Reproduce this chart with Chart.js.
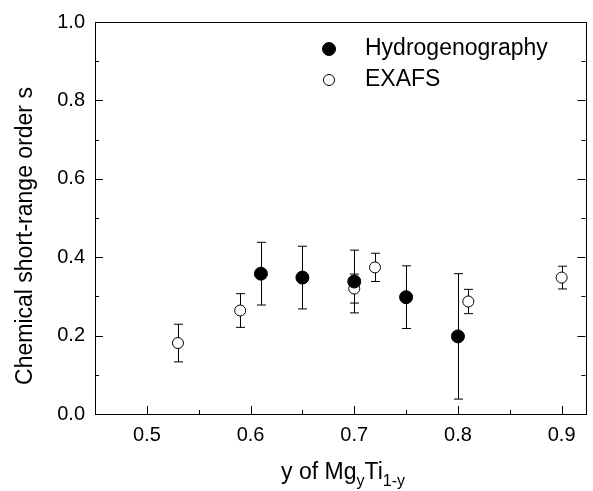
<!DOCTYPE html>
<html>
<head>
<meta charset="utf-8">
<script src="https://cdn.jsdelivr.net/npm/chart.js@4.4.0/dist/chart.umd.min.js"></script>
<style>
  body { margin: 0; background: #fff; }
  #wrap { width: 593px; height: 491px; }
</style>
</head>
<body>
<div id="wrap"><canvas id="grafico" width="593" height="491"></canvas></div>
<script>
// Hydrogenography (filled circles)
const hydroX = [0.61, 0.65, 0.70, 0.75, 0.80];
const hydroS = [0.358, 0.348, 0.338, 0.298, 0.198];
const hydroErr = [0.08, 0.08, 0.08, 0.08, 0.16];

// EXAFS (open circles)
const exafsX = [0.53, 0.59, 0.70, 0.72, 0.81, 0.90];
const exafsS = [0.181, 0.264, 0.32, 0.374, 0.287, 0.348];
const exafsErr = [0.048, 0.043, 0.037, 0.036, 0.031, 0.029];

const xTicks = [0.5, 0.6, 0.7, 0.8, 0.9];
const xMinor = [0.55, 0.65, 0.75, 0.85];
const yTicks = [0.0, 0.2, 0.4, 0.6, 0.8, 1.0];
const yMinor = [0.1, 0.3, 0.5, 0.7, 0.9];

const fonte = "'Liberation Sans', Arial, sans-serif";

function pontos(xs, ys, errs) {
    return xs.map((x, i) => ({ x: x, y: ys[i], err: errs[i] }));
}

// barras de erro, desenhadas antes dos pontos
const barrasErro = {
    id: "barrasErro",
    beforeDatasetsDraw(chart) {
        const ctx = chart.ctx;
        const sx = chart.scales.x, sy = chart.scales.y;
        ctx.save();
        ctx.strokeStyle = "#000";
        ctx.lineWidth = 1;
        chart.data.datasets.forEach(ds => {
            ds.data.forEach(p => {
                const px = Math.round(sx.getPixelForValue(p.x)) + 0.5;
                const top = sy.getPixelForValue(p.y + p.err);
                const bot = sy.getPixelForValue(p.y - p.err);
                ctx.beginPath();
                ctx.moveTo(px, top); ctx.lineTo(px, bot);
                ctx.moveTo(px - 4.5, top); ctx.lineTo(px + 4.5, top);
                ctx.moveTo(px - 4.5, bot); ctx.lineTo(px + 4.5, bot);
                ctx.stroke();
            });
        });
        ctx.restore();
    }
};

// moldura, ticks internos, legenda e títulos
const moldura = {
    id: "moldura",
    afterDraw(chart) {
        const ctx = chart.ctx;
        const a = chart.chartArea;
        const sx = chart.scales.x, sy = chart.scales.y;
        ctx.save();
        ctx.strokeStyle = "#000";
        ctx.lineWidth = 1;
        ctx.strokeRect(Math.round(a.left) + 0.5, Math.round(a.top) + 0.5,
            Math.round(a.right - a.left), Math.round(a.bottom - a.top));

        ctx.beginPath();
        xTicks.forEach(v => {
            const px = Math.round(sx.getPixelForValue(v)) + 0.5;
            ctx.moveTo(px, a.bottom); ctx.lineTo(px, a.bottom - 8);
        });
        xMinor.forEach(v => {
            const px = Math.round(sx.getPixelForValue(v)) + 0.5;
            ctx.moveTo(px, a.bottom); ctx.lineTo(px, a.bottom - 4);
        });
        yTicks.forEach(v => {
            const py = Math.round(sy.getPixelForValue(v)) + 0.5;
            ctx.moveTo(a.left, py); ctx.lineTo(a.left + 8, py);
            ctx.moveTo(a.right, py); ctx.lineTo(a.right - 8, py);
        });
        yMinor.forEach(v => {
            const py = Math.round(sy.getPixelForValue(v)) + 0.5;
            ctx.moveTo(a.left, py); ctx.lineTo(a.left + 4, py);
            ctx.moveTo(a.right, py); ctx.lineTo(a.right - 4, py);
        });
        ctx.stroke();

        // legenda
        ctx.font = "23px " + fonte;
        ctx.textBaseline = "middle";
        ctx.textAlign = "left";
        chart.data.datasets.forEach((ds, i) => {
            const ly = 49 + i * 31;
            ctx.beginPath();
            ctx.arc(329, ly, ds.pointRadius, 0, Math.PI * 2);
            ctx.fillStyle = ds.pointBackgroundColor;
            ctx.fill();
            ctx.stroke();
            ctx.fillStyle = "#000";
            ctx.fillText(ds.label, 365, ly);
        });

        // título eixo y
        ctx.save();
        ctx.translate(26, 236);
        ctx.rotate(-Math.PI / 2);
        ctx.textAlign = "center";
        ctx.font = "23px " + fonte;
        ctx.fillText("Chemical short-range order s", 0, 0);
        ctx.restore();

        // título eixo x com subscritos
        const partes = [
            { t: "y of Mg", f: 23, dy: 0 },
            { t: "y", f: 16, dy: 7 },
            { t: "Ti", f: 23, dy: 0 },
            { t: "1-y", f: 16, dy: 7 }
        ];
        ctx.textBaseline = "alphabetic";
        let total = 0;
        partes.forEach(p => { ctx.font = p.f + "px " + fonte; total += ctx.measureText(p.t).width; });
        let cx = 343 - total / 2;
        partes.forEach(p => {
            ctx.font = p.f + "px " + fonte;
            ctx.fillText(p.t, cx, 479 + p.dy);
            cx += ctx.measureText(p.t).width;
        });
        ctx.restore();
    }
};

new Chart(document.getElementById("grafico").getContext("2d"), {
    type: "scatter",
    data: {
        datasets: [{
            label: "Hydrogenography",
            data: pontos(hydroX, hydroS, hydroErr),
            pointRadius: 6.5,
            pointBackgroundColor: "#000",
            pointBorderColor: "#000",
            pointBorderWidth: 1
        }, {
            label: "EXAFS",
            data: pontos(exafsX, exafsS, exafsErr),
            pointRadius: 5.5,
            pointBackgroundColor: "#fff",
            pointBorderColor: "#000",
            pointBorderWidth: 1
        }]
    },
    options: {
        responsive: false,
        animation: false,
        layout: { padding: { top: 15, right: 7, left: 0, bottom: 0 } },
        plugins: {
            legend: { display: false },
            tooltip: { enabled: false }
        },
        scales: {
            x: {
                type: "linear",
                min: 0.45,
                max: 0.923,
                grid: { display: false, drawTicks: false },
                border: { display: false },
                afterBuildTicks: s => { s.ticks = xTicks.map(v => ({ value: v })); },
                afterFit: s => { s.height = 77; },
                ticks: {
                    color: "#000",
                    padding: 9,
                    font: { family: fonte, size: 20 },
                    callback: v => v.toFixed(1)
                }
            },
            y: {
                min: 0,
                max: 1,
                grid: { display: false, drawTicks: false },
                border: { display: false },
                afterBuildTicks: s => { s.ticks = yTicks.map(v => ({ value: v })); },
                afterFit: s => { s.width = 95; },
                ticks: {
                    color: "#000",
                    padding: 10,
                    font: { family: fonte, size: 20 },
                    callback: v => v.toFixed(1)
                }
            }
        }
    },
    plugins: [barrasErro, moldura]
});
</script>
</body>
</html>
